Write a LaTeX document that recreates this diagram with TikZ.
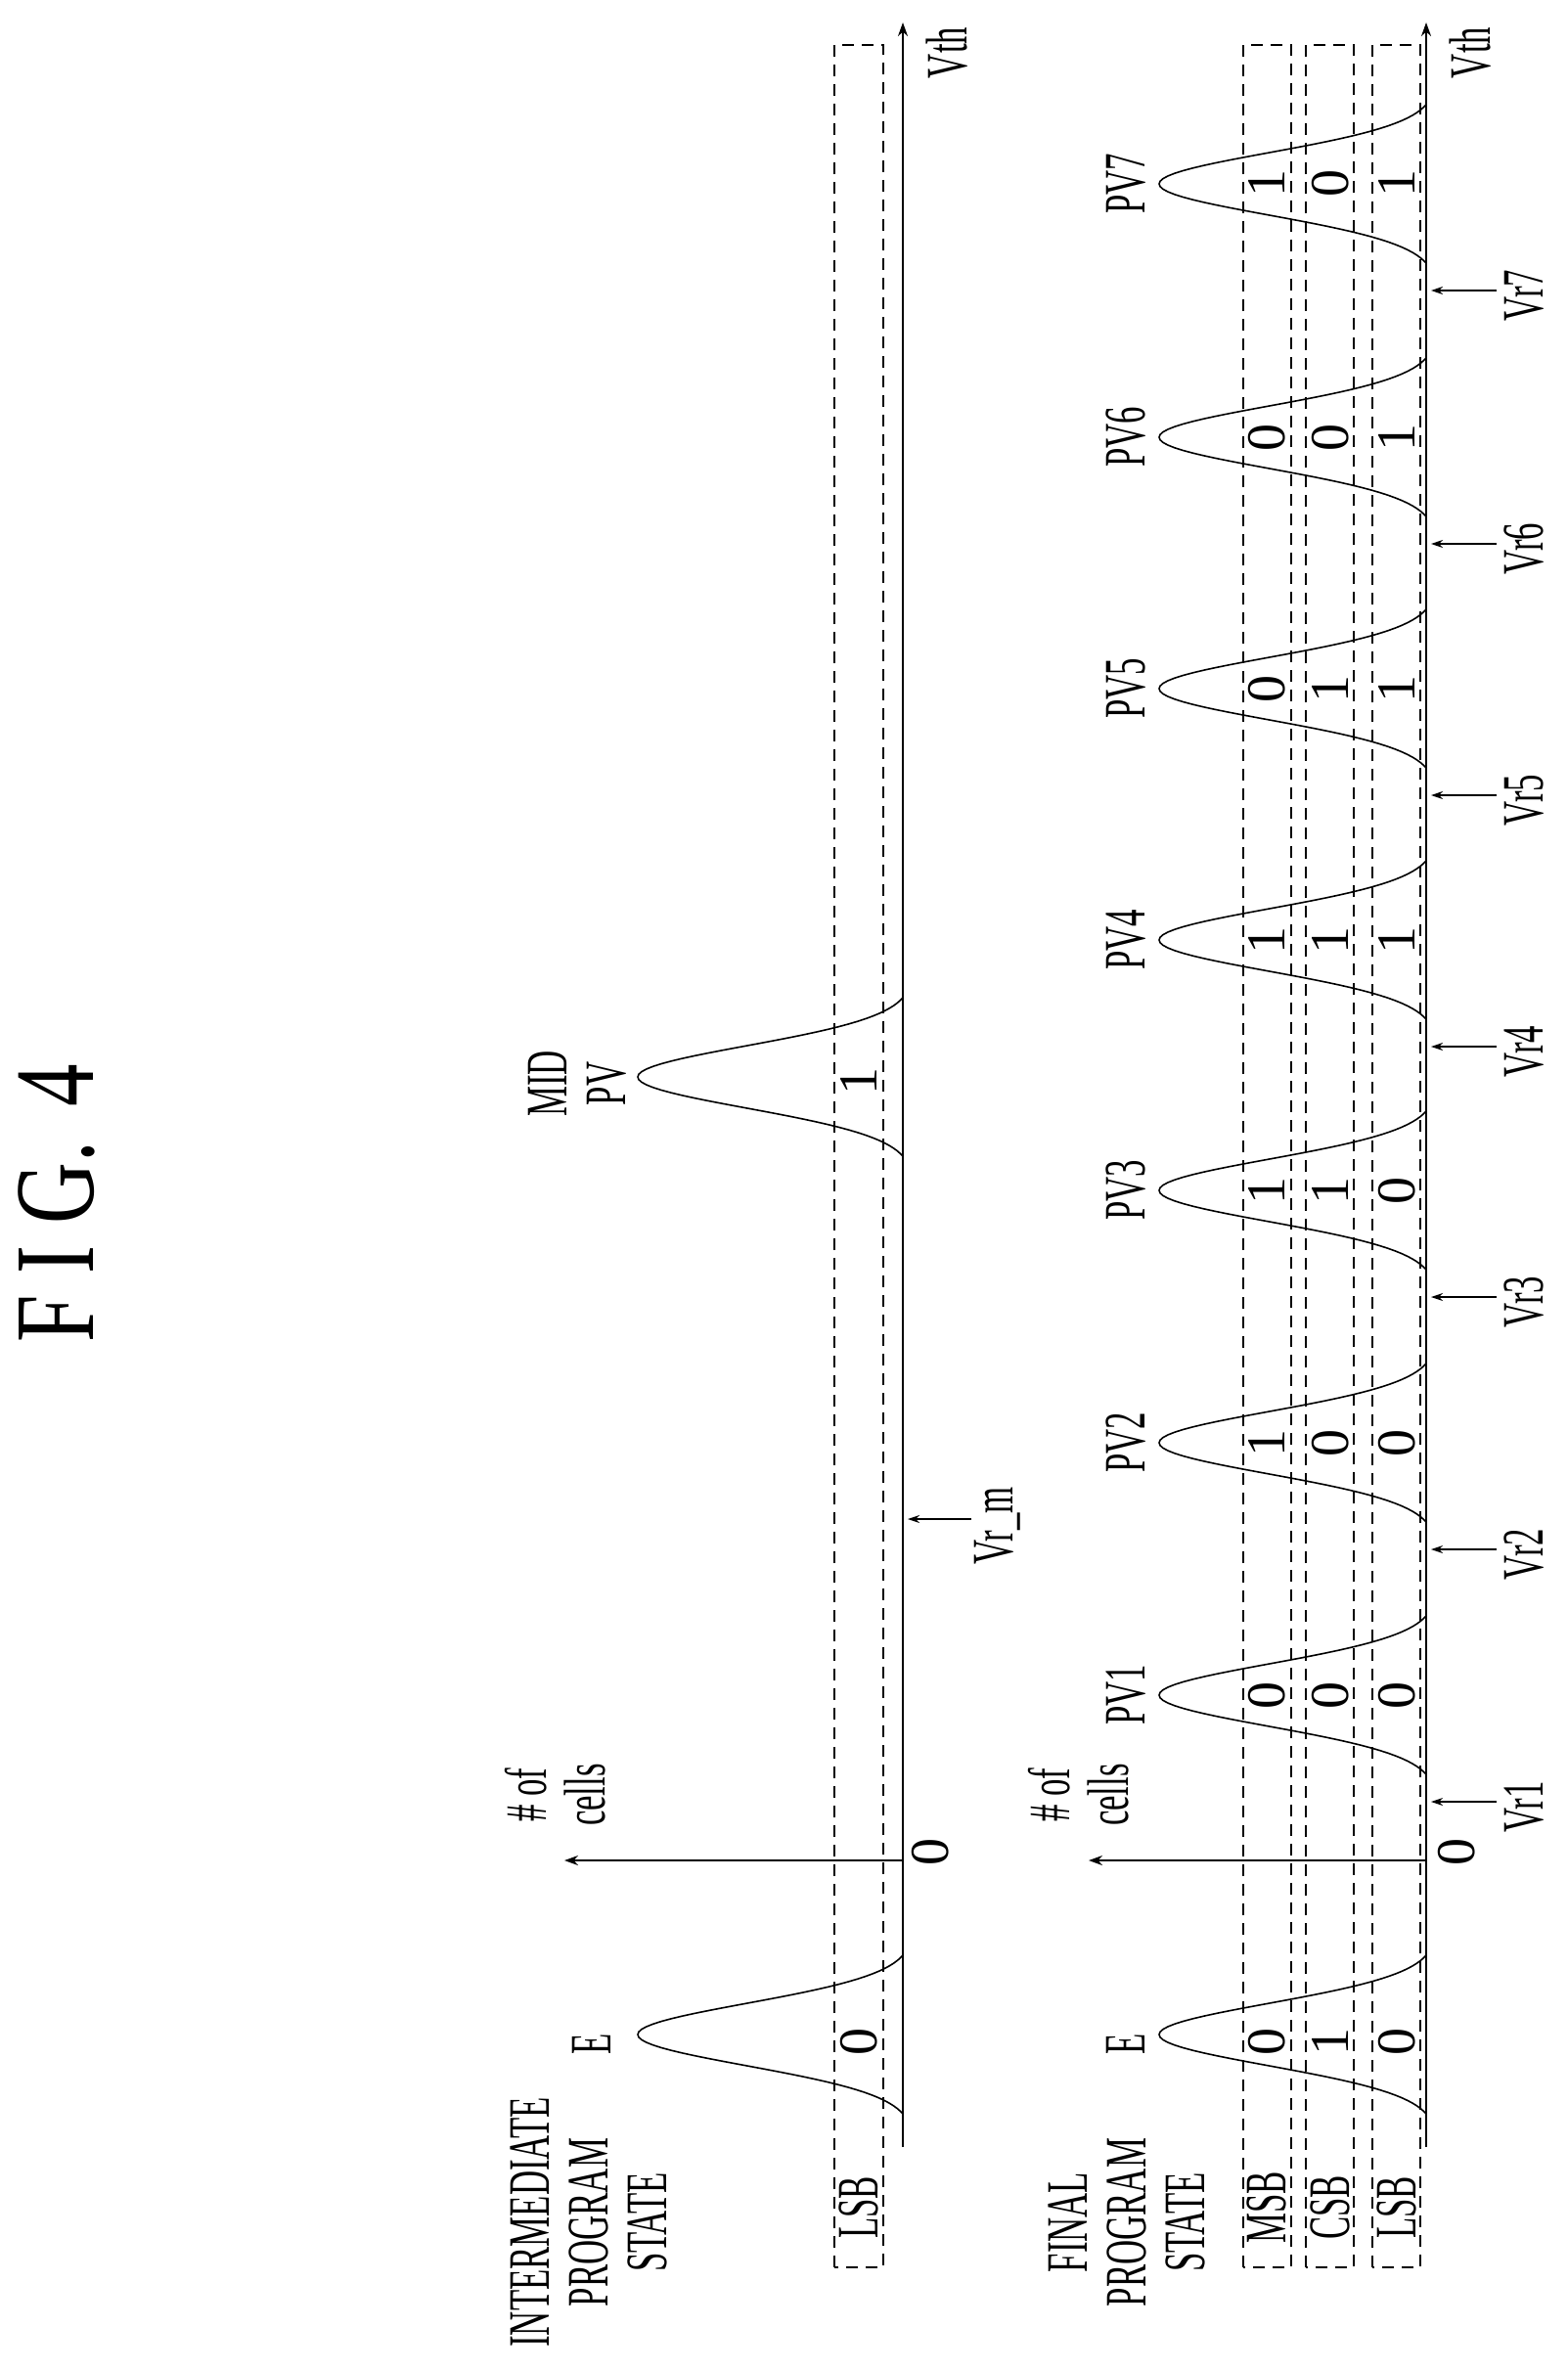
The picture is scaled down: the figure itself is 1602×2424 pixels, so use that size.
\documentclass[tikz,border=0pt]{standalone}
\usepackage{fontspec}
\setmainfont{Liberation Serif}
\usetikzlibrary{arrows.meta}
\tikzset{
  txt/.style={rotate=90, font=\fontsize{30}{30}\selectfont, inner sep=1pt},
  bit/.style={rotate=90, font=\fontsize{28}{28}\selectfont, inner sep=1pt},
  bitbox/.style={draw, dash pattern=on 6pt off 4pt, line width=0.8pt},
  axisline/.style={line width=1pt, -{Stealth[length=7pt,width=5pt]}},
  vrarrow/.style={line width=0.7pt, -{Stealth[length=6pt,width=4pt]}},
  bell/.style={line width=0.8pt}
}
% condensed label text
\newcommand{\cond}[1]{\scalebox{0.58}[1]{#1}}
% bell shaped distribution, #1 = axis x, #2 = peak x, #3 = centre y
\newcommand{\bellcurve}[3]{%
  \draw[bell] plot[domain=-81:81, samples=61, variable=\t]
    ({#1-(#1-#2)*(exp(-(\t/45)^2)-0.039)/0.961}, {#3+\t});}
\begin{document}
\begin{tikzpicture}[x=0.5pt,y=-0.5pt]
  \useasboundingbox (0,0) rectangle (1602,2424);

  \node[rotate=90, font=\fontsize{58}{58}\selectfont] (title) at (58,1230)
    {\scalebox{0.75}[1]{F I G. \,4}};

  %% intermediate program state
  \coordinate (ubot) at (923,2195);
  \coordinate (utop) at (923,23);
  \draw[axisline] (ubot) -- (utop);
  \node[txt] (uvth) at (968,54) {\cond{Vth}};
  \coordinate (uorig) at (923,1902);
  \draw[axisline] (uorig) -- (577,1902);
  \node[txt, align=center] (ucells) at (568,1835) {\cond{\# of}\\\cond{cells}};
  \node[bit] (uzero) at (951,1893) {0};
  \draw[bitbox] (853,2318) rectangle (903,46);
  \node[txt] (ulsb) at (878,2257) {\cond{LSB}};
  \node[bit] (ubit0) at (878,2087) {0};
  \node[bit] (ubit1) at (878,1105) {1};
  \bellcurve{923}{652}{2080}
  \bellcurve{923}{652}{1101}
  \node[txt] (ue) at (605,2090) {\cond{E}};
  \node[txt, align=center] (umid) at (590,1108) {\cond{MID}\\\cond{PV}};
  \node[txt] (uvrm) at (1020,1560) {\cond{Vr\_m}};
  \coordinate (uvrmax) at (928,1553);
  \coordinate (uvrmst) at (993,1553);
  \draw[vrarrow] (uvrmst) -- (uvrmax);
  \node[txt, align=center] (ustate) at (602,2272)
    {\cond{INTERMEDIATE}\\\cond{PROGRAM}\\\cond{STATE}};

  %% final program state
  \coordinate (lbot) at (1458,2195);
  \coordinate (ltop) at (1458,23);
  \draw[axisline] (lbot) -- (ltop);
  \node[txt] (lvth) at (1503,54) {\cond{Vth}};
  \coordinate (lorig) at (1458,1902);
  \draw[axisline] (lorig) -- (1113,1902);
  \node[txt, align=center] (lcells) at (1103,1835) {\cond{\# of}\\\cond{cells}};
  \node[bit] (lzero) at (1489,1893) {0};
  \draw[bitbox] (1271,2318) rectangle (1320,46);
  \draw[bitbox] (1335,2318) rectangle (1384,46);
  \draw[bitbox] (1403,2318) rectangle (1452,46);
  \node[txt] (lmsb) at (1295,2257) {\cond{MSB}};
  \node[txt] (lcsb) at (1360,2257) {\cond{CSB}};
  \node[txt] (llsb) at (1428,2257) {\cond{LSB}};
  \node[txt, align=center] (lstate) at (1152,2272)
    {\cond{FINAL}\\\cond{PROGRAM}\\\cond{STATE}};

  \bellcurve{1458}{1185}{2080}
  \node[txt] (le) at (1151,2090) {\cond{E}};
  \node[bit] (lem) at (1295,2087) {0};
  \node[bit] (lec) at (1360,2087) {1};
  \node[bit] (lel) at (1428,2087) {0};

  \foreach \n/\yc/\m/\c/\l in {1/1733/0/0/0, 2/1475/1/0/0, 3/1217/1/1/0,
      4/961/1/1/1, 5/704/0/1/1, 6/447/0/0/1, 7/188/1/0/1} {
    \bellcurve{1458}{1185}{\yc}
    \node[txt] (pv\n) at (1151,\yc) {\cond{PV\n}};
    \node[bit] (msb\n) at (1295,\yc) {\m};
    \node[bit] (csb\n) at (1360,\yc) {\c};
    \node[bit] (lsb\n) at (1428,\yc) {\l};
  }

  \foreach \n/\yv in {1/1842, 2/1584, 3/1326, 4/1070, 5/813, 6/556, 7/297} {
    \node[txt] (vr\n) at (1558,\yv+5) {\cond{Vr\n}};
    \coordinate (vrst\n) at (1530,\yv);
    \coordinate (vrax\n) at (1463,\yv);
    \draw[vrarrow] (vrst\n) -- (vrax\n);
  }
\end{tikzpicture}
\end{document}
